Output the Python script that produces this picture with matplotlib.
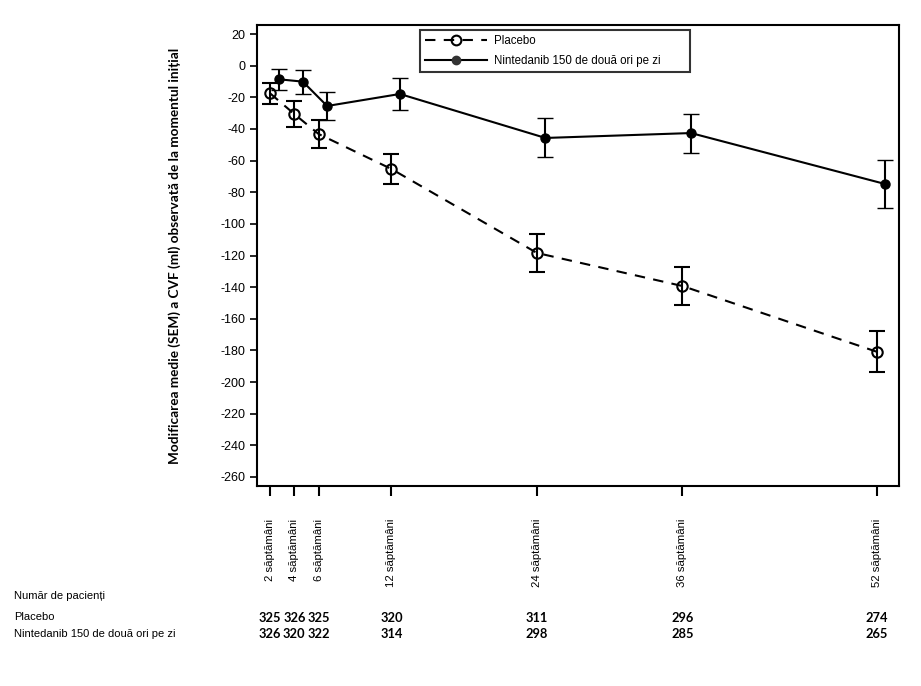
import matplotlib
matplotlib.use("Agg")
import matplotlib.pyplot as plt
from matplotlib.lines import Line2D
import numpy as np

plt.rcParams["axes.unicode_minus"] = False

# data
weeks = [2, 4, 6, 12, 24, 36, 52]
week_labels = ["2 săptămâni", "4 săptămâni", "6 săptămâni", "12 săptămâni",
               "24 săptămâni", "36 săptămâni", "52 săptămâni"]

placebo_mean = [-17.5, -30.6, -43.2, -65.3, -118.4, -139.3, -180.8]
placebo_sem = [6.7, 8.0, 8.6, 9.3, 12.0, 12.3, 12.8]
ninted_mean = [-8.6, -10.1, -25.5, -17.9, -45.7, -42.6, -74.8]
ninted_sem = [6.7, 7.6, 9.0, 10.3, 12.3, 12.3, 15.2]

placebo_n = [325, 326, 325, 320, 311, 296, 274]
ninted_n = [326, 320, 322, 314, 298, 285, 265]

ninted_offset = 0.7

fig = plt.figure(figsize=(9.21, 6.86), dpi=100)
ax = fig.add_axes([257 / 921, 1 - 486 / 686, (899 - 257) / 921, (486 - 25) / 686])

ax.errorbar(weeks, placebo_mean, yerr=placebo_sem, color="black", lw=1.5,
            linestyle=(0, (5, 4)), marker="o", markersize=7.5, markerfacecolor="none",
            markeredgewidth=1.5, capsize=6, capthick=1.5, elinewidth=1.5)
ax.errorbar(np.array(weeks) + ninted_offset, ninted_mean, yerr=ninted_sem, color="black",
            lw=1.5, linestyle="-", marker="o", markersize=6.5, markerfacecolor="black",
            markeredgewidth=1.0, capsize=6, capthick=1.5, elinewidth=1.5)

ax.set_xlim(0.92, 53.85)
ax.set_ylim(-265.7, 25.7)
ax.set_yticks(range(-260, 21, 20))
ax.set_xticks(weeks)
ax.set_xticklabels(week_labels, rotation=90, fontsize=8.2, family="Liberation Sans",
                   va="top")
ax.tick_params(axis="x", direction="out", length=7, width=1.5, pad=16.5)
ax.tick_params(axis="y", direction="out", length=5, width=1.2, labelsize=9)
for lab in ax.get_yticklabels():
    lab.set_family("Liberation Sans")
for sp in ax.spines.values():
    sp.set_linewidth(1.5)

ax.set_ylabel("Modificarea medie (SEM) a CVF (ml) observată de la momentul inițial",
              family="Lato", fontweight="bold", fontsize=9.8, labelpad=28)

handles = [
    Line2D([], [], color="black", lw=1.5, linestyle=(0, (5, 4)), marker="o",
           markersize=7, markerfacecolor="none", markeredgewidth=1.5),
    Line2D([], [], color="black", lw=1.5, linestyle="-", marker="o",
           markersize=6, markerfacecolor="#333333", markeredgecolor="#333333"),
]
x0 = (420 - 257) / 642
leg = ax.legend(handles, ["Placebo", "Nintedanib 150 de două ori pe zi"],
                loc="upper left", mode="expand",
                bbox_to_anchor=(x0, 1 - (73 - 25) / 461, 270 / 642, 43 / 461),
                frameon=True, fancybox=False, edgecolor="black",
                prop={"family": "Liberation Sans", "size": 8.3}, handlelength=5.4,
                borderpad=0.4, labelspacing=0.75, borderaxespad=0, handletextpad=0.6)
leg.get_frame().set_linewidth(1.5)

# patient counts table
lab_font = {"family": "Liberation Sans", "size": 8}
fig.text(14 / 921, 1 - 596 / 686, "Număr de pacienți", va="center", fontdict=lab_font)
fig.text(14 / 921, 1 - 617 / 686, "Placebo", va="center", fontdict=lab_font)
fig.text(14 / 921, 1 - 634 / 686, "Nintedanib 150 de două ori pe zi", va="center",
         fontdict=lab_font)
for w, p, n in zip(weeks, placebo_n, ninted_n):
    xf = fig.transFigure.inverted().transform(ax.transData.transform((w, 0)))[0]
    fig.text(xf, 1 - 618 / 686, str(p), ha="center", va="center", fontsize=9.3,
             family="Lato", fontweight="bold")
    fig.text(xf, 1 - 634 / 686, str(n), ha="center", va="center", fontsize=9.3,
             family="Lato", fontweight="bold")

fig.savefig("out.png", dpi=100)
